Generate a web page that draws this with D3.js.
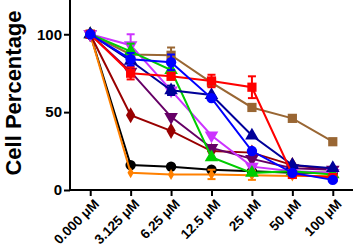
<!DOCTYPE html>
<html>
<head>
<meta charset="utf-8">
<script src="https://cdn.jsdelivr.net/npm/d3@7"></script>
<style>
  body { margin: 0; background: #fff; }
  svg { display: block; font-family: "Liberation Sans", Arial, sans-serif; }
</style>
</head>
<body>
<svg id="chart" width="355" height="252"></svg>
<script>
// doses on the x axis
var doses = ["0.000 \u03bcM", "3.125 \u03bcM", "6.25 \u03bcM", "12.5 \u03bcM", "25 \u03bcM", "50 \u03bcM", "100 \u03bcM"];
var yTicks = [0, 50, 100];

// one array per compound (cell percentage)
var brownVals   = [100, 87, 86.5, 69, 53, 46, 31];
var blackVals   = [100, 16, 15, 13, 12, 11, 11];
var orangeVals  = [100, 11, 10, 10, 9.5, 9, 9];
var maroonVals  = [100, 48, 38, 25, 24, 16, 13];
var purpleVals  = [100, 76, 47, 27, 20, 14, 13];
var magentaVals = [100, 93, 64, 35, 15, 12, 11];
var greenVals   = [100, 89, 77, 21, 11, 12, 10];
var navyVals    = [100, 83, 64, 61, 35, 16, 14];
var redVals     = [100, 75, 73, 70, 66, 10, 8];
var blueVals    = [100, 84, 82, 59, 25, 11, 6.5];

// error bars (sem), 0 = none drawn
var brownErr   = [0, 0, 5, 0, 0, 0, 0];
var blackErr   = [0, 0, 0, 1, 0, 0, 0];
var orangeErr  = [0, 0, 0, 3, 3, 0, 0];
var maroonErr  = [0, 0, 0, 0, 0, 0, 0];
var purpleErr  = [0, 0, 0, 0, 0, 0, 0];
var magentaErr = [0, 7, 0, 0, 0, 0, 0];
var greenErr   = [0, 5, 0, 0, 0, 0, 0];
var navyErr    = [0, 0, 3, 0, 0, 0, 0];
var redErr     = [0, 4, 0, 4, 7, 0, 0];
var blueErr    = [0, 4, 5, 0, 0, 0, 0];

var series = [
  {vals: brownVals,   err: brownErr,   color: "#996633", shape: "square"},
  {vals: blackVals,   err: blackErr,   color: "#000000", shape: "circle"},
  {vals: orangeVals,  err: orangeErr,  color: "#ff8000", shape: "smalldiamond"},
  {vals: maroonVals,  err: maroonErr,  color: "#990000", shape: "diamond"},
  {vals: purpleVals,  err: purpleErr,  color: "#660066", shape: "down"},
  {vals: magentaVals, err: magentaErr, color: "#cc33ff", shape: "down"},
  {vals: greenVals,   err: greenErr,   color: "#00cc00", shape: "up"},
  {vals: navyVals,    err: navyErr,    color: "#000099", shape: "up"},
  {vals: redVals,     err: redErr,     color: "#ff0000", shape: "square"},
  {vals: blueVals,    err: blueErr,    color: "#0000ff", shape: "circle"}
];

var svg = d3.select("#chart");
var x0 = 70, x1 = 353, yBase = 190;

var x = d3.scalePoint().domain(doses).range([x0, x1]).padding(0.5);
var y = d3.scaleLinear().domain([0, 122]).range([yBase, 0]);

// axes
var yAxis = svg.append("g").attr("transform", "translate(" + x0 + ",0)")
  .call(d3.axisLeft(y).tickValues(yTicks).tickSize(6).tickPadding(2));
var xAxis = svg.append("g").attr("transform", "translate(0," + yBase + ")")
  .call(d3.axisBottom(x).tickSize(6).tickFormat(""));
svg.selectAll(".domain").remove();
svg.append("line").attr("x1", x0).attr("x2", x0).attr("y1", 0).attr("y2", yBase)
  .attr("stroke", "#000").attr("stroke-width", 2);
svg.append("line").attr("x1", x0 - 1).attr("x2", x1).attr("y1", yBase).attr("y2", yBase)
  .attr("stroke", "#000").attr("stroke-width", 2);
svg.selectAll(".tick line").attr("stroke", "#000").attr("stroke-width", 2);
yAxis.selectAll("text").attr("font-size", 15).attr("font-weight", "900").attr("fill", "#000")
  .attr("font-family", "Liberation Sans, Arial, sans-serif");

svg.append("g").selectAll("text").data(doses).enter().append("text")
  .attr("transform", function(d) { return "translate(" + (x(d) + 3) + "," + (yBase + 8) + ") rotate(-45)"; })
  .attr("text-anchor", "end")
  .attr("dy", "0.7em")
  .attr("font-size", 13.5)
  .attr("font-weight", "900")
  .text(function(d) { return d; });

svg.append("text")
  .attr("transform", "translate(21,93) rotate(-90)")
  .attr("text-anchor", "middle")
  .attr("font-size", 22)
  .attr("font-weight", "900")
  .text("Cell Percentage");

var line = d3.line().x(function(d, i) { return x(doses[i]); }).y(function(d) { return y(d); });

function symbolFor(shape) {
  if (shape === "circle") return d3.symbol().type(d3.symbolCircle).size(85)();
  if (shape === "square") return d3.symbol().type(d3.symbolSquare).size(85)();
  if (shape === "diamond") return d3.symbol().type(d3.symbolDiamond).size(75)();
  if (shape === "smalldiamond") return d3.symbol().type(d3.symbolDiamond).size(35)();
  return d3.symbol().type(d3.symbolTriangle).size(80)();
}

series.forEach(function(s) {
  var g = svg.append("g");
  g.append("path").datum(s.vals).attr("d", line)
    .attr("fill", "none").attr("stroke", s.color).attr("stroke-width", 2);

  s.vals.forEach(function(v, i) {
    var e = s.err[i];
    if (!e) return;
    var cx = x(doses[i]);
    g.append("line").attr("x1", cx).attr("x2", cx).attr("y1", y(v - e)).attr("y2", y(v + e))
      .attr("stroke", s.color).attr("stroke-width", 2);
    [v - e, v + e].forEach(function(w) {
      g.append("line").attr("x1", cx - 4).attr("x2", cx + 4).attr("y1", y(w)).attr("y2", y(w))
        .attr("stroke", s.color).attr("stroke-width", 2);
    });
  });

  g.selectAll("path.mark").data(s.vals).enter().append("path")
    .attr("class", "mark")
    .attr("d", symbolFor(s.shape))
    .attr("transform", function(d, i) {
      var t = "translate(" + x(doses[i]) + "," + y(d) + ")";
      return s.shape === "down" ? t + " rotate(180)" : t;
    })
    .attr("fill", s.color);
});
</script>
</body>
</html>
